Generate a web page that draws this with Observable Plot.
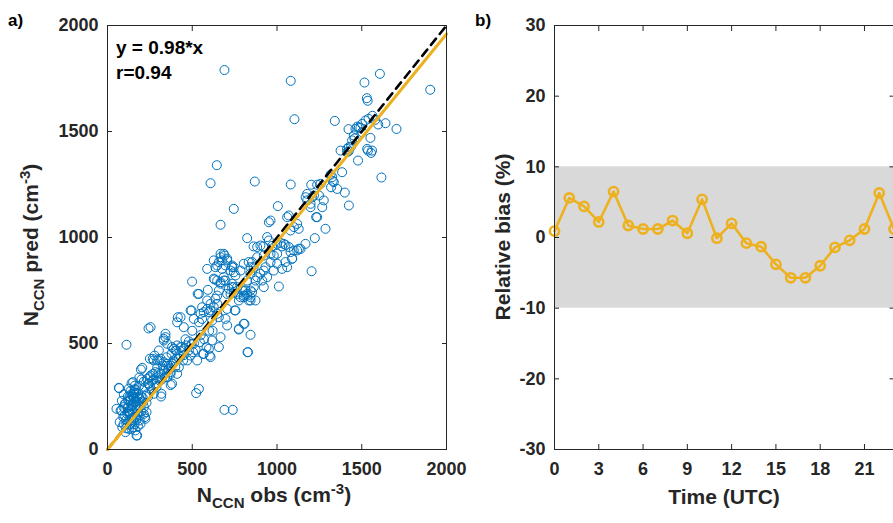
<!DOCTYPE html>
<html><head><meta charset="utf-8">
<script src="https://cdn.jsdelivr.net/npm/d3@7"></script>
<script src="https://cdn.jsdelivr.net/npm/@observablehq/plot@0.6"></script>
<style>
html,body{margin:0;padding:0;background:#fff;}
#wrap{position:relative;width:893px;height:523px;overflow:hidden;background:#fff;font-family:"Liberation Sans",Arial,sans-serif;}
#wrap svg{position:absolute;top:0;overflow:visible;}
</style></head><body><div id="wrap"></div>
<script>
// ---------- Panel a data: N_CCN observed vs predicted (cm^-3) ----------
const obsValues = [
690,1081,1607,1516,1904,1530,1535,1103,1341,1422,
1473,1492,1522,1540,1563,1597,1640,1705,645,608,
869,1081,1616,1457,1437,1413,1423,1375,1551,1537,
1555,1478,1384,1400,1316,1329,1319,1202,1237,1178,
1218,1463,1483,1502,1502,1453,1443,1424,1414,1561,
1326,1257,1169,1208,1248,1267,1424,1198,1335,1355,
1276,1237,1286,1178,1198,1231,1223,1168,1204,1011,
1005,745,667,952,962,1060,1069,1119,1128,1100,
1080,1119,1139,1080,1090,824,942,952,1532,1580,
862,883,902,920,971,1001,1030,1050,1021,981,
962,932,922,902,883,873,912,942,863,853,
833,844,814,824,834,804,785,765,844,751,
808,844,826,775,706,696,657,1040,1070,1099,
1129,1089,1050,1001,981,1030,1060,1001,962,922,
883,853,804,785,824,745,726,686,667,647,
627,667,686,706,637,922,844,804,745,706,
667,690,676,706,657,696,735,745,755,588,
499,631,667,696,592,532,647,608,549,568,
588,608,627,647,726,735,496,415,647,676,
735,843,862,627,686,735,765,794,824,844,
873,804,775,745,716,657,637,588,539,558,
598,647,706,755,617,558,509,490,431,411,
450,775,804,667,617,598,657,608,568,529,
490,440,391,342,332,303,273,254,293,332,
372,381,539,829,690,739,523,242,112,
352,381,401,431,450,411,267,293,313,332,
352,372,391,421,372,411,352,313,283,254,
234,264,283,316,205,221,240,273,373,250,
278,307,327,348,378,407,437,466,496,545,
584,603,387,357,339,308,269,249,289,318,
407,446,505,564,470,520,480,550,570,600,
620,540,500,460,430,360,320,400,290,342,332,
67,151,126,155,175,136,165,185,146,116,
175,77,214,224,155,136,195,87,126,165,
106,175,69,142,197,53,83,102,122,151,
181,190,210,171,132,161,190,220,112,142,
171,93,72,122,230,
140,160,130,150,170,180,120,100,145,160,
180,200,215,130,95,110,150,190,170,120,
135,200,160,230,250,260,230,240,95,85,
110,125,140,155,170,185,200,105,118,132,
148,162,178,192,208,96,128,158,188,214,
244,272,300,330,360,390,420,450,480,510
];
const predValues = [
1790,1739,1772,1731,1697,1657,1645,1558,1550,1511,
1523,1517,1552,1560,1574,1533,1539,1512,1341,1256,
1264,1250,1283,1467,1429,1418,1407,1410,1470,1410,
1399,1363,1308,1212,1296,1267,1237,1249,1249,1206,
1198,1512,1520,1536,1497,1481,1458,1426,1403,1410,
1285,1253,1190,1190,1198,1143,1151,1159,1261,1229,
1175,1096,1041,1175,1143,1096,997,970,841,769,
1148,1135,1060,1072,1080,1096,1104,1064,1041,1049,
1033,939,946,931,900,997,1002,986,1418,1555,
958,955,962,958,960,970,958,965,975,915,
884,860,844,829,813,797,797,813,766,742,
884,860,750,726,703,726,718,734,703,656,
593,541,459,566,585,616,624,970,955,939,
947,900,884,876,844,852,860,923,923,915,
907,884,876,844,797,860,844,813,782,797,
892,907,923,900,860,766,750,750,766,734,
923,915,892,892,884,868,860,836,821,852,
792,802,789,797,753,734,726,687,640,648,
663,656,671,687,734,766,656,624,868,852,
868,829,860,806,797,782,766,750,734,718,
703,718,703,742,758,750,711,703,734,671,
648,640,663,656,608,616,616,656,624,600,
577,569,593,530,514,475,483,436,451,420,
443,467,475,530,514,467,420,577,387,373,
357,310,286,459,187,187,266,571,494,
499,483,467,483,475,491,428,420,428,412,
404,396,412,388,365,357,341,357,365,349,
333,325,310,250,385,294,310,263,304,428,
443,420,396,435,451,467,483,491,498,506,
483,443,404,373,341,325,357,341,294,263,
428,420,459,451,420,470,510,540,520,560,
560,600,560,520,440,380,330,390,340,546,522,
291,318,287,263,247,231,223,200,184,168,
168,184,168,145,137,121,121,105,97,90,
82,66,289,313,377,192,184,215,231,247,
263,239,223,200,168,153,137,153,121,97,
66,153,129,200,176,
260,280,250,210,230,210,180,160,150,120,
110,180,200,140,120,100,105,160,140,250,
275,250,300,260,300,280,220,250,200,230,
140,175,205,240,268,300,330,215,195,165,
255,285,190,220,245,260,230,270,340,320,
310,330,360,380,395,420,430,445,468,500
];
const oneToOneX = [0, 2000];
const oneToOneY = [0, 2000];
const fitX = [0, 2000];
const fitY = [0, 1960];
const ticksA = [0, 500, 1000, 1500, 2000];

// ---------- Panel b data: hourly relative bias (%) ----------
const hours = [0,1,2,3,4,5,6,7,8,9,10,11,12,13,14,15,16,17,18,19,20,21,22,23];
const biasValues = [0.9,5.6,4.4,2.2,6.5,1.7,1.2,1.2,2.4,0.6,5.4,-0.1,2.0,-0.8,-1.3,-3.8,-5.7,-5.7,-4.0,-1.4,-0.4,1.2,6.3,1.2];
const bandLow = [-10];
const bandHigh = [10];
const hourTicks = [0,3,6,9,12,15,18,21];
const biasTicks = [-30,-20,-10,0,10,20,30];

const scatter = obsValues.map((o, i) => ({obs: o, pred: predValues[i]}));
const refLine = oneToOneX.map((x, i) => ({x, y: oneToOneY[i]}));
const fitLine = fitX.map((x, i) => ({x, y: fitY[i]}));
const biasData = hours.map((h, i) => ({h, v: biasValues[i]}));
const band = bandLow.map((lo, i) => ({lo, hi: bandHigh[i], x1: hours[0], x2: hours[hours.length - 1]}));

const BLUE = "#0072BD", ORANGE = "#EDB120", AX = "#262626";
const FONT = "'Liberation Sans', Arial, sans-serif";
const style = {fontFamily: FONT, fontWeight: "bold", fontSize: "18px", color: AX, background: "transparent", overflow: "visible"};
const plainFmt = d => String(d);

function boxAxes(xt, yt) {
  const t = {tickFormat: () => "", label: null, strokeWidth: 1, stroke: AX};
  return [
    Plot.axisX(xt, {anchor: "bottom", tickSize: 0, tickPadding: 13, label: null, tickFormat: plainFmt, fontSize: 18, fontWeight: "bold"}),
    Plot.axisY(yt, {anchor: "left", tickSize: 0, tickPadding: 9, label: null, tickFormat: plainFmt, fontSize: 18, fontWeight: "bold"}),
    Plot.axisX(xt, {anchor: "bottom", tickSize: 5, dy: -5, ...t}),
    Plot.axisX(xt, {anchor: "top", tickSize: 5, dy: 5, ...t}),
    Plot.axisY(yt, {anchor: "left", tickSize: 5, dx: 5, ...t}),
    Plot.axisY(yt, {anchor: "right", tickSize: 5, dx: -5, ...t}),
    Plot.frame({stroke: AX, strokeWidth: 1})
  ];
}

const chartA = Plot.plot({
  width: 470, height: 523,
  marginLeft: 107, marginRight: 24, marginTop: 25, marginBottom: 74,
  x: {domain: [0, 2000]},
  y: {domain: [0, 2000]},
  style,
  marks: [
    Plot.dot(scatter, {x: "obs", y: "pred", r: 4.5, stroke: BLUE, strokeWidth: 1, fill: "none"}),
    Plot.line(refLine, {x: "x", y: "y", stroke: "#000", strokeWidth: 2.6, strokeDasharray: "8,6"}),
    Plot.line(fitLine, {x: "x", y: "y", stroke: ORANGE, strokeWidth: 3}),
    ...boxAxes(ticksA, ticksA)
  ]
});

const chartB = Plot.plot({
  width: 424, height: 523,
  marginLeft: 84, marginRight: 0.5, marginTop: 25, marginBottom: 74,
  x: {domain: [0, 23]},
  y: {domain: [-30, 30]},
  style,
  marks: [
    Plot.rect(band, {x1: "x1", x2: "x2", y1: "lo", y2: "hi", fill: "#D9D9D9"}),
    Plot.line(biasData, {x: "h", y: "v", stroke: ORANGE, strokeWidth: 2.6}),
    Plot.dot(biasData, {x: "h", y: "v", r: 4.6, stroke: ORANGE, strokeWidth: 2.6, fill: "none"}),
    ...boxAxes(hourTicks, biasTicks)
  ]
});

const wrap = document.getElementById("wrap");
chartA.style.left = "0px";
chartB.style.left = "470px";
wrap.appendChild(chartA);
wrap.appendChild(chartB);

function richLabel(svg, parts, x, y, rotate, size) {
  const t = d3.select(svg).append("text")
    .attr("text-anchor", "middle")
    .attr("font-family", FONT).attr("font-weight", "bold")
    .attr("font-size", size).attr("fill", AX)
    .attr("transform", `translate(${x},${y})` + (rotate ? " rotate(-90)" : ""));
  let shift = 0;
  for (const p of parts) {
    const target = p.sub ? 6 : p.sup ? -8 : 0;
    const ts = t.append("tspan").text(p.t).attr("dy", target - shift);
    if (p.sub || p.sup) ts.attr("font-size", 15);
    shift = target;
  }
  return t;
}
function plainText(svg, s, x, y, size, fill) {
  d3.select(svg).append("text").text(s)
    .attr("x", x).attr("y", y)
    .attr("text-anchor", "start")
    .attr("font-family", FONT).attr("font-weight", "bold")
    .attr("font-size", size).attr("fill", fill);
}

richLabel(chartA, [{t: "N"}, {t: "CCN", sub: true}, {t: " pred (cm"}, {t: "-3", sup: true}, {t: ")"}], 38, 245, true, 21);
richLabel(chartA, [{t: "N"}, {t: "CCN", sub: true}, {t: " obs (cm"}, {t: "-3", sup: true}, {t: ")"}], 274, 502, false, 21);
richLabel(chartB, [{t: "Relative bias (%)"}], 40, 237, true, 21);
richLabel(chartB, [{t: "Time (UTC)"}], 254, 504, false, 21);

plainText(chartA, "a)", 8, 26, 17, "#000");
plainText(chartB, "b)", 5, 26, 17, "#000");
plainText(chartA, "y = 0.98*x", 116, 54, 19, "#000");
plainText(chartA, "r=0.94", 116, 79, 19, "#000");
</script>
</body></html>
